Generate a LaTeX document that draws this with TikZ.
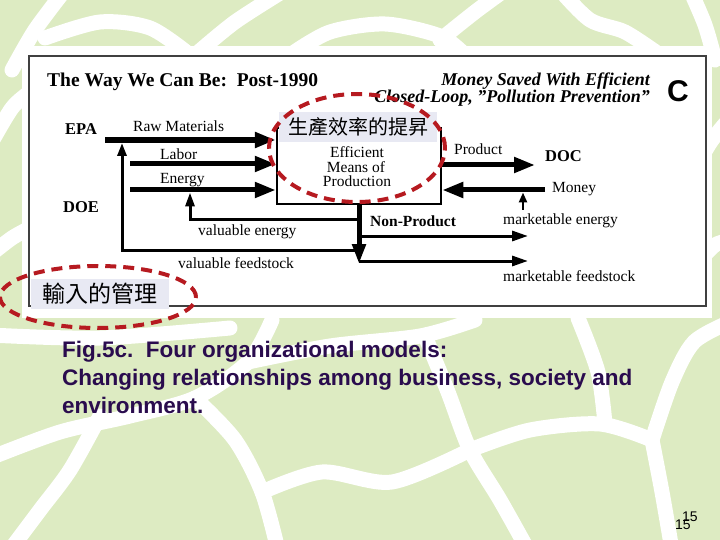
\documentclass[tikz,border=0pt]{standalone}
\usepackage{fontspec}
\setmainfont{Liberation Serif}
\newfontfamily\cjkfont{Noto Sans CJK TC}
\newfontfamily\arialfont{Liberation Sans}
\usetikzlibrary{arrows.meta}
\definecolor{bgreen}{RGB}{221,235,194}
\definecolor{lav}{RGB}{232,233,243}
\definecolor{dred}{RGB}{182,26,32}
\definecolor{capc}{RGB}{42,12,78}
\begin{document}
\begin{tikzpicture}[x=1pt,y=-1pt,
  lbl/.style={anchor=base west,inner sep=0pt,font=\fontsize{15.5}{16}\selectfont},
  blbl/.style={anchor=base west,inner sep=0pt,font=\bfseries\fontsize{16.5}{17}\selectfont},
  boxtext/.style={anchor=base,inner sep=0pt,font=\fontsize{15.5}{16}\selectfont},
  mainarrow/.style={line width=5pt,-{Triangle[length=21pt,width=15pt]}},
  thinarrow/.style={line width=3pt,-{Triangle[length=16pt,width=10pt]}},
  loopline/.style={line width=3pt,line join=miter},
  stripe/.style={white,line width=15pt,line cap=round,line join=round},
  ring/.style={dred,line width=4pt,dash pattern=on 11pt off 7pt},
  zhlabel/.style={fill=lav,inner sep=0pt},
  captxt/.style={anchor=base west,inner sep=0pt,text=capc,font=\arialfont\bfseries\fontsize{22.5}{22.5}\selectfont}
]
\useasboundingbox (0,0) rectangle (720,540);
% background pattern
\fill[bgreen] (0,0) rectangle (720,540);
\draw[stripe] plot[smooth] coordinates {(12,70) (35,30) (65,-10)};
\draw[stripe] plot[smooth] coordinates {(45,38) (100,22) (150,28) (190,55)};
\draw[stripe] plot[smooth] coordinates {(195,55) (235,22) (285,-10)};
\draw[stripe] plot[smooth] coordinates {(290,55) (330,32) (385,24) (440,36) (465,55)};
\draw[stripe] plot[smooth] coordinates {(440,40) (475,12) (505,-10)};
\draw[stripe] plot[smooth] coordinates {(560,-10) (590,20) (625,32) (660,55)};
\draw[stripe] plot[smooth] coordinates {(690,-10) (705,25) (715,60)};
\draw[stripe] plot[smooth] coordinates {(-10,145) (12,108) (30,92)};
\draw[stripe] plot[smooth] coordinates {(-10,255) (12,238) (30,228)};
\draw[stripe] plot[smooth] coordinates {(700,160) (712,140) (730,118)};
\draw[stripe] plot[smooth] coordinates {(700,260) (715,245) (730,240)};
\draw[stripe] plot[smooth] coordinates {(-10,335) (100,338) (230,328)};
\draw[stripe] plot[smooth] coordinates {(-10,458) (60,432) (130,416) (195,398) (248,362) (272,320)};
\draw[stripe] plot[smooth] coordinates {(195,398) (235,440) (262,492) (278,550)};
\draw[stripe] plot[smooth] coordinates {(248,362) (330,346) (420,336) (475,320)};
\draw[stripe] plot[smooth] coordinates {(425,336) (448,392) (470,450) (500,500) (528,550)};
\draw[stripe] plot[smooth] coordinates {(470,450) (530,430) (600,424) (652,440)};
\draw[stripe] plot[smooth] coordinates {(578,318) (598,372) (605,424)};
\draw[stripe] plot[smooth] coordinates {(652,440) (672,382) (694,342) (730,322)};
\draw[stripe] plot[smooth] coordinates {(652,440) (662,492) (672,550)};
\draw[stripe] plot[smooth] coordinates {(262,492) (322,472) (392,482) (470,450)};
\draw[stripe] plot[smooth] coordinates {(100,416) (70,470) (40,510) (10,550)};
% scanned figure area
\fill[white] (22,46) rectangle (712,318);
\draw[line width=1.3pt,black!75] (29,56) rectangle (706,306);
% titles
\node[anchor=base west,inner sep=0pt,font=\bfseries\fontsize{19.5}{20}\selectfont] (title) at (47,87) {The Way We Can Be:\ \ Post-1990};
\node[anchor=base east,inner sep=0pt,font=\bfseries\itshape\fontsize{18}{18}\selectfont] (sub1) at (650,86) {Money Saved With Efficient};
\node[anchor=base east,inner sep=0pt,font=\bfseries\itshape\fontsize{18}{18}\selectfont] (sub2) at (650,103) {Closed-Loop, \char34 Pollution Prevention\char34};
\node[anchor=base west,inner sep=0pt,font=\arialfont\bfseries\fontsize{30}{30}\selectfont] (cc) at (667,102) {C};
% actors
\node[blbl] (epa) at (65,135) {EPA};
\node[blbl] (doe) at (63,213) {DOE};
\node[blbl] (doc) at (545,162) {DOC};
% central box
\node[draw,line width=2.5pt,minimum width=164pt,minimum height=76pt,inner sep=0pt] (box) at (359,166) {};
\node[boxtext] (bt1) at (357,158) {Efficient};
\node[boxtext] (bt2) at (356,173) {Means of};
\node[boxtext] (bt3) at (357,187) {Production};
% coordinates
\coordinate (rawS) at (105,140);
\coordinate (labS) at (130,164);
\coordinate (enS) at (130,190);
\coordinate (prodE) at (535,165);
\coordinate (monS) at (545,190);
\coordinate (npE) at (359,264);
\coordinate (meE) at (528,236);
\coordinate (mfE) at (528,261);
\coordinate (veA) at (359,220);
\coordinate (veB) at (190,220);
\coordinate (veT) at (190,192.5);
\coordinate (vfA) at (359,250);
\coordinate (vfB) at (122,250);
\coordinate (vfT) at (122,143);
\coordinate (meS) at (523,210);
\coordinate (meT) at (523,192.5);
% arrows
\draw[mainarrow,line width=6pt] (rawS) -- (rawS -| box.west);
\draw[mainarrow] (labS) -- (labS -| box.west);
\draw[mainarrow] (enS) -- (enS -| box.west);
\draw[mainarrow] (box.east |- prodE) -- (prodE);
\draw[mainarrow] (monS) -- (monS -| box.east);
\draw[mainarrow,-{Triangle[length=20pt,width=13pt]}] (box.south) -- (npE);
\draw[thinarrow] (box.south |- meE) -- (meE);
\draw[thinarrow] (box.south |- mfE) -- (mfE);
\draw[loopline,-{Triangle[length=14pt,width=9pt]}] (veA) -- (veB) -- (veT);
\draw[loopline,-{Triangle[length=13pt,width=9pt]}] (vfA) -- (vfB) -- (vfT);
\draw[line width=2.5pt,-{Triangle[length=10pt,width=8pt]}] (meS) -- (meT);
% labels
\node[lbl] (lraw) at (133,132) {Raw Materials};
\node[lbl] (llab) at (160,160) {Labor};
\node[lbl] (len) at (160,184) {Energy};
\node[lbl] (lve) at (198,236) {valuable energy};
\node[lbl] (lvf) at (178,268) {valuable feedstock};
\node[lbl] (lprod) at (454,155) {Product};
\node[lbl] (lmon) at (552,193) {Money};
\node[lbl] (lme) at (503,225) {marketable energy};
\node[blbl,font=\bfseries\fontsize{15.5}{16}\selectfont] (lnp) at (370,226) {Non-Product};
\node[lbl] (lmf) at (503,281) {marketable feedstock};
% Chinese annotations
\node[zhlabel,minimum width=158pt,minimum height=30pt,font=\cjkfont\fontsize{20}{20}\selectfont] (zh1) at (358,127) {生產效率的提昇};
\draw[ring] (357,148) ellipse [x radius=88pt,y radius=54pt];
\node[zhlabel,minimum width=138pt,minimum height=30pt,font=\cjkfont\fontsize{23}{23}\selectfont] (zh2) at (100,294) {輸入的管理};
\draw[ring] (98,297) ellipse [x radius=98pt,y radius=31pt];
% caption
\node[captxt] (cap1) at (62,357) {Fig.5c.\ \ Four organizational models:};
\node[captxt] (cap2) at (62,385) {Changing relationships among business, society and};
\node[captxt] (cap3) at (62,413) {environment.};
% page numbers
\node[anchor=base west,inner sep=0pt,font=\arialfont\fontsize{14}{14}\selectfont] (pg1) at (682,521) {15};
\node[anchor=base west,inner sep=0pt,font=\arialfont\fontsize{14}{14}\selectfont] (pg2) at (675,529) {15};
\end{tikzpicture}
\end{document}
